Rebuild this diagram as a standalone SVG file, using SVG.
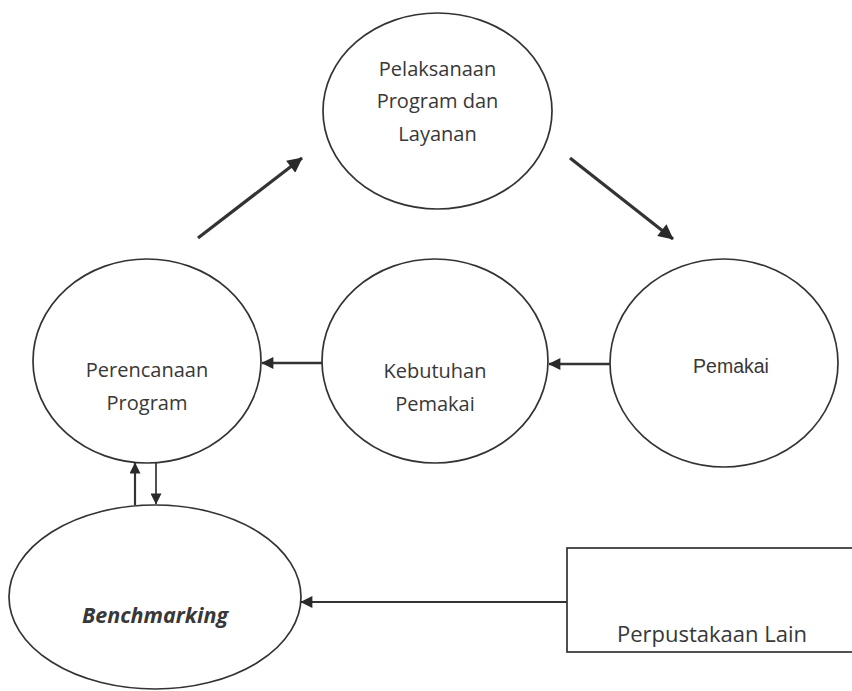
<svg xmlns="http://www.w3.org/2000/svg" width="852" height="691" viewBox="0 0 852 691">
<style>
.node{fill:#fff;stroke:#333;stroke-width:1.7}
.lbl{font-family:"Open Sans","Noto Sans",sans-serif;font-size:20px;fill:#383838;text-anchor:middle}
.conn{stroke:#333;fill:none}
</style>
<defs>
<marker id="ah" viewBox="0 0 10 10" refX="9.5" refY="5" markerWidth="17" markerHeight="15" markerUnits="userSpaceOnUse" orient="auto">
<path d="M0,0 L10,5 L0,10 Z" fill="#2a2a2a"/>
</marker>
<marker id="ahs" viewBox="0 0 10 10" refX="9.5" refY="5" markerWidth="14" markerHeight="12" markerUnits="userSpaceOnUse" orient="auto">
<path d="M0,0 L10,5 L0,10 Z" fill="#2a2a2a"/>
</marker>
<marker id="ahv" viewBox="0 0 10 10" refX="9.5" refY="5" markerWidth="12" markerHeight="11" markerUnits="userSpaceOnUse" orient="auto">
<path d="M0,0 L10,5 L0,10 Z" fill="#2a2a2a"/>
</marker>
</defs>
<rect width="852" height="691" fill="#fff"/>
<g id="connectors">
<line class="conn" x1="198" y1="238" x2="302" y2="158" stroke-width="3.2" marker-end="url(#ah)"/>
<line class="conn" x1="570" y1="158" x2="673" y2="239" stroke-width="3.2" marker-end="url(#ah)"/>
<line class="conn" x1="322" y1="363" x2="262" y2="363" stroke-width="2.5" marker-end="url(#ahs)"/>
<line class="conn" x1="610" y1="364" x2="549" y2="364" stroke-width="2.5" marker-end="url(#ahs)"/>
<line class="conn" x1="135" y1="505" x2="135" y2="463" stroke-width="2.2" marker-end="url(#ahv)"/>
<line class="conn" x1="156" y1="463" x2="156" y2="504" stroke-width="1.7" marker-end="url(#ahv)"/>
<line class="conn" x1="567" y1="602" x2="301" y2="602" stroke-width="2.2" marker-end="url(#ahs)"/>
</g>
<g id="pelaksanaan">
<ellipse class="node" cx="437.5" cy="111" rx="114.5" ry="98"/>
<text class="lbl" x="437.5" y="76">Pelaksanaan</text>
<text class="lbl" x="437.5" y="108">Program dan</text>
<text class="lbl" x="437.5" y="141">Layanan</text>
</g>
<g id="perencanaan">
<ellipse class="node" cx="147" cy="361" rx="114" ry="102"/>
<text class="lbl" x="147" y="377">Perencanaan</text>
<text class="lbl" x="147" y="410">Program</text>
</g>
<g id="kebutuhan">
<ellipse class="node" cx="435" cy="361" rx="113" ry="102"/>
<text class="lbl" x="435" y="378">Kebutuhan</text>
<text class="lbl" x="435" y="411">Pemakai</text>
</g>
<g id="pemakai">
<ellipse class="node" cx="724" cy="363" rx="114" ry="104"/>
<text x="731" y="373" style="font-family:'Liberation Sans',Arial,sans-serif;font-size:19.5px;fill:#383838;text-anchor:middle">Pemakai</text>
</g>
<g id="benchmarking">
<ellipse class="node" cx="155" cy="597" rx="146" ry="92"/>
<text class="lbl" x="155" y="623" style="font-weight:bold;font-style:italic;font-size:21.5px">Benchmarking</text>
</g>
<g id="perpustakaan">
<rect class="node" x="567" y="548" width="300" height="104"/>
<text class="lbl" x="712" y="642" style="font-size:22px">Perpustakaan Lain</text>
</g>
</svg>
